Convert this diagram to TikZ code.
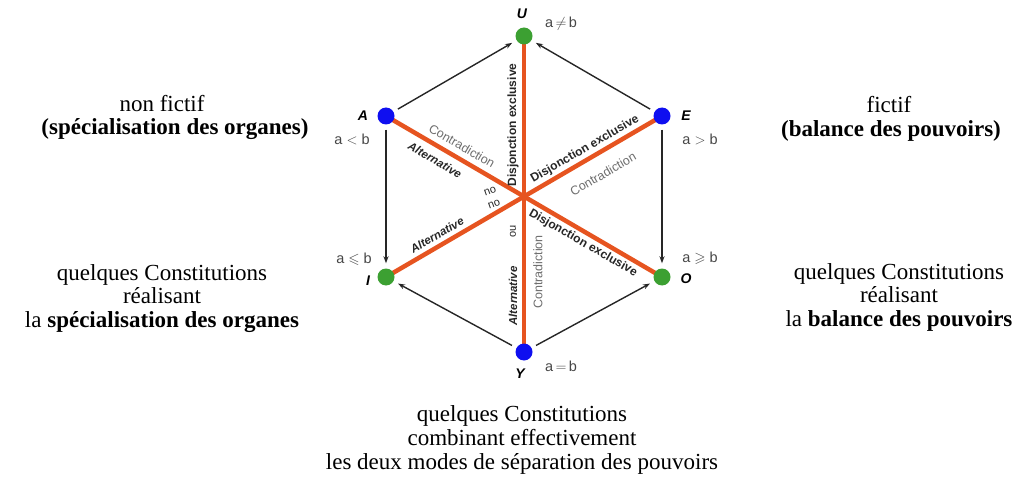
\documentclass[tikz,border=0pt]{standalone}
\usepackage{fontspec}
\usepackage{amssymb}
\setmainfont{Liberation Serif}
\newfontfamily\lsans{Liberation Sans}
\usetikzlibrary{arrows.meta}
\pgfdeclarelayer{background}
\pgfsetlayers{background,main}
\definecolor{hexblue}{RGB}{15,15,240}
\definecolor{hexgreen}{RGB}{60,160,50}
\definecolor{hexorange}{RGB}{230,84,32}
\definecolor{labgray}{RGB}{110,110,110}
\definecolor{reltext}{RGB}{70,70,70}
\tikzset{
  vtx/.style={circle, minimum size=17pt, inner sep=0pt},
  bluevtx/.style={vtx, fill=hexblue},
  greenvtx/.style={vtx, fill=hexgreen},
  oline/.style={draw=hexorange, line width=4.5pt},
  arr/.style={draw=black!85, line width=1.4pt, -{Stealth[length=7pt,width=5pt]}, shorten >=5pt, shorten <=5pt},
  big/.style={font=\fontsize{23}{24}\selectfont, inner sep=0pt, anchor=base},
  vname/.style={font=\lsans\bfseries\itshape\fontsize{14}{14}\selectfont, inner sep=0pt},
  rel/.style={font=\lsans\fontsize{14.5}{14.5}\selectfont, text=reltext, inner sep=0pt},
  contra/.style={font=\lsans\fontsize{12.5}{12.5}\selectfont, text=labgray, inner sep=0pt},
  disj/.style={font=\lsans\bfseries\fontsize{12}{12}\selectfont, text=black!85, inner sep=0pt},
  altern/.style={font=\lsans\bfseries\itshape\fontsize{11.5}{11.5}\selectfont, text=black!85, inner sep=0pt},
  oulab/.style={font=\lsans\fontsize{11}{11}\selectfont, text=black!85, inner sep=0pt},
}
\begin{document}
\begin{tikzpicture}[x=1pt,y=-1pt]
\useasboundingbox (0,0) rectangle (1018,484);
% vertices
\node[greenvtx] (U) at (524,36) {};
\node[bluevtx]  (A) at (386,116) {};
\node[bluevtx]  (E) at (662,116) {};
\node[greenvtx] (I) at (386,277) {};
\node[greenvtx] (O) at (662,277) {};
\node[bluevtx]  (Y) at (524,352) {};
% orange diagonals
\begin{pgfonlayer}{background}
\draw[oline] (A.center) -- (O.center);
\draw[oline] (E.center) -- (I.center);
\draw[oline] (U.center) -- (Y.center);
\end{pgfonlayer}
% arrows
\draw[arr] (A) -- (U);
\draw[arr] (E) -- (U);
\draw[arr] (A) -- (I);
\draw[arr] (E) -- (O);
\draw[arr] (Y) -- (I);
\draw[arr] (Y) -- (O);
% vertex names and relations
\node[vname] (nU) at (522,14) {U};
\node[rel] (rU) at (561,24) {a\,$\neq$\,b};
\node[vname] (nA) at (363,116) {A};
\node[rel] (rA) at (352,139) {a $<$ b};
\node[vname] (nE) at (686,116) {E};
\node[rel] (rE) at (700,139) {a $>$ b};
\node[rel] (rI) at (354,259) {a $\leqslant$ b};
\node[vname] (nI) at (368,281) {I};
\node[rel] (rO) at (700,258) {a $\geqslant$ b};
\node[vname] (nO) at (686,279) {O};
\node[rel] (rY) at (561,366) {a\,$=$\,b};
\node[vname] (nY) at (520,374) {Y};
% labels along the diagonals
\node[contra, rotate=-30] (l1) at (462,146) {Contradiction};
\node[altern, rotate=-30] (l2) at (435,160) {Alternative};
\node[disj, rotate=-30] (l3) at (583,243) {Disjonction exclusive};
\node[disj, rotate=30] (l4) at (585,149) {Disjonction exclusive};
\node[contra, rotate=30] (l5) at (603,174) {Contradiction};
\node[altern, rotate=30] (l6) at (437,235) {Alternative};
\node[disj, rotate=90] (l7) at (513,125) {Disjonction exclusive};
\node[altern, rotate=90] (l8) at (513,296) {Alternative};
\node[oulab, rotate=90] (l9) at (513,231) {ou};
\node[contra, rotate=90] (l10) at (538,272) {Contradiction};
\node[oulab, rotate=200] (l11) at (490,191) {ou};
\node[oulab, rotate=200] (l12) at (494,204) {ou};
% text blocks
\node[big] (t1) at (162,112) {non fictif};
\node[big] (t2) at (175,135) {\textbf{(spécialisation des organes)}};
\node[big] (t3) at (889,113) {fictif};
\node[big] (t4) at (891,137) {\textbf{(balance des pouvoirs)}};
\node[big] (t5) at (162,280) {quelques Constitutions};
\node[big] (t6) at (162,303) {réalisant};
\node[big] (t7) at (162,327) {la \textbf{spécialisation des organes}};
\node[big] (t8) at (899,279) {quelques Constitutions};
\node[big] (t9) at (899,302) {réalisant};
\node[big] (t10) at (899,326) {la \textbf{balance des pouvoirs}};
\node[big] (t11) at (522,421) {quelques Constitutions};
\node[big] (t12) at (522,445) {combinant effectivement};
\node[big] (t13) at (522,469) {les deux modes de séparation des pouvoirs};
\end{tikzpicture}
\end{document}
